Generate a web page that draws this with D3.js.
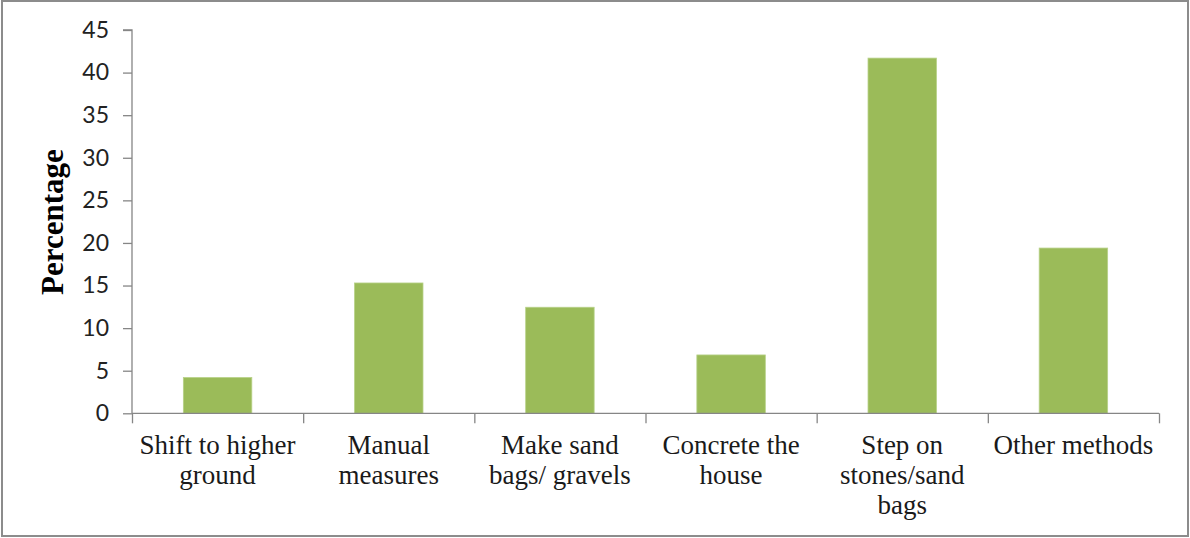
<!DOCTYPE html>
<html><head><meta charset="utf-8">
<script src="https://cdn.jsdelivr.net/npm/d3@7"></script>
<style>body{margin:0;background:#fff}svg{display:block}</style>
</head><body>
<svg id="c" width="1190" height="538"></svg>
<script>
const categories = [
  ["Shift to higher", "ground"],
  ["Manual", "measures"],
  ["Make sand", "bags/ gravels"],
  ["Concrete the", "house"],
  ["Step on", "stones/sand", "bags"],
  ["Other methods"]
];
const values = [4.2, 15.3, 12.45, 6.85, 41.7, 19.4];
const yTicks = [0, 5, 10, 15, 20, 25, 30, 35, 40, 45];
const yTitle = "Percentage";

const svg = d3.select("#c");
const mLeft = 132, mRight = 1159, mTop = 30, mBottom = 413.3;

svg.append("rect").attr("x", 2).attr("y", 1).attr("width", 1186).attr("height", 535)
  .attr("fill", "#fff").attr("stroke", "#8c8c8c").attr("stroke-width", 2);

const x = d3.scaleBand().domain(d3.range(categories.length)).range([mLeft, mRight]).paddingInner(0.6).paddingOuter(0.3);
const xEdge = d3.scaleLinear().domain([0, categories.length]).range([mLeft, mRight]);
const y = d3.scaleLinear().domain([0, 45]).range([mBottom, mTop]);

// bars
svg.append("g").selectAll("rect").data(values).join("rect")
  .attr("x", (d, i) => x(i)).attr("width", x.bandwidth())
  .attr("y", d => y(d)).attr("height", d => y(0) - y(d))
  .attr("fill", "#9BBB59").attr("stroke", "#b7d188").attr("stroke-width", 0.8);

// y axis
const ya = svg.append("g").attr("transform", `translate(${mLeft},0)`)
  .call(d3.axisLeft(y).tickValues(yTicks).tickSize(9).tickPadding(14));
ya.select(".domain").attr("stroke", "#868686").attr("stroke-width", 1.3).attr("d", `M-9,${mTop}H0V${mBottom}`);
ya.selectAll(".tick line").attr("stroke", "#868686").attr("stroke-width", 1.3);
ya.selectAll(".tick text").attr("font-family", "Lato, sans-serif").attr("font-size", 23).attr("fill", "#222");

// x axis baseline and tick marks
const xa = svg.append("g").attr("transform", `translate(0,${mBottom})`)
  .call(d3.axisBottom(xEdge).tickValues(d3.range(categories.length + 1)).tickSize(10).tickFormat(""));
xa.select(".domain").attr("stroke", "#868686").attr("stroke-width", 1.3).attr("d", `M${mLeft},0H${mRight}`);
xa.selectAll(".tick line").attr("stroke", "#868686").attr("stroke-width", 1.3);

// category labels
const lab = svg.append("g").selectAll("text").data(categories).join("text")
  .attr("x", (d, i) => x(i) + x.bandwidth() / 2)
  .attr("y", 454)
  .attr("text-anchor", "middle")
  .attr("font-family", "'Liberation Serif', 'Times New Roman', serif")
  .attr("font-size", 27).attr("fill", "#1a1a1a");
lab.selectAll("tspan").data(d => d).join("tspan")
  .attr("x", function () { return d3.select(this.parentNode).attr("x"); })
  .attr("dy", (d, i) => i === 0 ? 0 : 30)
  .text(d => d);

// y title
svg.append("text")
  .attr("transform", `translate(63,${(147 + 297) / 2}) rotate(-90)`)
  .attr("text-anchor", "middle")
  .attr("font-family", "'Liberation Serif', 'Times New Roman', serif")
  .attr("font-weight", "bold").attr("font-size", 31).attr("fill", "#000")
  .text(yTitle);
</script>
</body></html>
